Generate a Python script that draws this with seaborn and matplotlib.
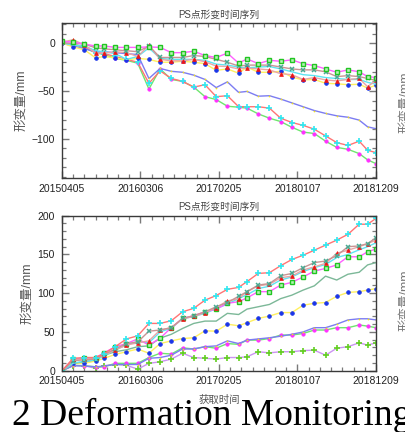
import matplotlib
matplotlib.use("Agg")
import matplotlib.pyplot as plt
from matplotlib.ticker import MultipleLocator, FixedLocator
import seaborn as sns

# acquisition day offsets from 2015-04-05
days = [0, 48, 96, 144, 180, 228, 276, 324, 372, 420, 468, 516, 564, 612, 660,
        708, 756, 792, 840, 888, 936, 984, 1032, 1080, 1128, 1176, 1224, 1272, 1308, 1344]
tick_days = [0, 336, 672, 1008, 1344]
tick_labels = ["20150405", "20160306", "20170205", "20180107", "20181209"]

# ---- top panel (subsidence) ----
top_green_mag = [0, -1, -5, -10, -12, -16, -18, -21, -48, -27, -38, -40, -46, -56, -59, -66, -67, -68,
                 -74, -78.5, -82, -88, -93, -94.5, -102.5, -109, -111, -115.5, -122, -126]
top_red_cyan = [0, -1, -4, -10, -11, -14, -17, -20, -42, -29, -37, -40, -46, -43.5, -56, -55, -66.5,
                -66.5, -66.5, -68, -78.5, -83, -86, -90, -97, -104, -107, -102.5, -112, -114.5]
top_blue_yel = [0, -3, -6, -9, -9, -10, -11, -12, -37, -26.5, -29.5, -30.5, -33.5, -38, -46.5, -40.5,
                -51.5, -50.5, -55.5, -55, -58.5, -62.5, -66.5, -70.5, -73.5, -76, -77.5, -80.5, -87.5, -89.5]
top_yel_blue = [0, -4, -7, -15.5, -14, -15.5, -17.5, -16, -17, -20, -20, -19, -20, -21.5, -28.5, -27,
                -31.5, -25, -30.5, -30.5, -29.5, -35.5, -38.5, -38, -42, -42.5, -43.5, -43, -47, -44]
top_red_tri = [1, 3.5, -2, -10.5, -10.5, -9, -10, -14, -2, -17, -18.5, -18.5, -17, -19.5, -24, -24.5,
               -27, -26, -27, -28, -32, -33, -38, -36, -38.5, -39.5, -38, -37, -45.5, -39]
top_cyan = [0, -2, -3, -8, -9, -11, -17, -14, -5, -16, -17, -17, -17, -18, -22, -23, -25, -26, -25,
            -24.5, -27, -30, -33, -34, -36, -37, -38, -38, -41, -43]
top_rosy_x = [0, 0, -1, -5, -6, -7, -8, -9, -3, -15, -15, -15, -13, -14, -17, -20, -24, -23, -23, -23,
              -25, -27, -28, -28, -30, -35, -34, -35, -37, -39]
top_mag_sq = [2, 1, -1, -3, -3, -4.5, -4.5, -4.5, -4, -4.5, -10, -10, -8.5, -13, -15, -10.5, -21, -16.5,
              -21.5, -18, -19, -17.5, -21.5, -23.5, -27, -30.5, -28, -30, -35, -36]

# ---- bottom panel (uplift) ----
bot_purple_plus = [0, 6.5, 6.5, 3, 6.5, 8, 7, 2, 9.5, 11.5, 15, 22.5, 17, 16, 15, 17, 17, 18, 24.5, 23,
                   24.5, 24.5, 26, 26.5, 20, 29, 31, 36, 33, 36]
bot_green_mag = [0, 7, 6.5, 5, 5, 9.5, 9.5, 9.5, 17, 22.5, 21.5, 29.5, 28, 31, 29, 35, 34, 39.5, 39.5,
                 41.5, 46, 46, 48, 52.5, 52.5, 55.5, 55.5, 59, 57.5, 55.5]
bot_blue_yel = [0, 6.5, 6, 5, 6, 8, 8, 8, 16, 17, 20, 28, 28, 31, 32, 38.5, 35, 39.5, 41, 42.5, 44.5,
                47, 50, 55.5, 55.5, 60, 65.5, 67, 67, 65.5]
bot_yel_blue = [0, 9.5, 9.5, 12.5, 16, 21, 24.5, 28, 22.5, 35, 38.5, 41.5, 42.5, 51.5, 51, 60, 58, 62,
                67.5, 70.5, 75, 75, 84.5, 87, 88, 96, 101, 102, 104, 106]
bot_seagreen = [0, 9.5, 11.5, 14, 20, 24.5, 27, 31, 32, 42, 47, 54.5, 61, 64, 64, 74, 72.5, 79.5, 82.5,
                85.5, 93, 97.5, 104, 109.5, 122, 117, 124.5, 127, 136.5, 139.5]
bot_cyan = [0, 10, 12, 14, 19, 27, 33, 38, 36, 50, 55, 67, 70, 74, 80, 86, 93, 98, 106, 109, 117, 121,
            128, 133, 137, 146, 150, 156, 160, 165]
bot_mag_sq = [0, 15, 16, 17, 23, 31, 35, 41, 33, 42, 55.5, 67.5, 71, 76, 79.5, 87, 89, 94, 102, 102,
              110.5, 114, 121, 128.5, 132, 136.5, 147, 147, 153.5, 157]
bot_red_tri = [0, 15, 15, 16, 20, 27, 33, 36, 38.5, 52.5, 55.5, 67, 70, 75, 81.5, 90, 93, 102, 109.5,
               111.5, 120, 122, 130, 134, 138.5, 151.5, 155.5, 160, 164, 168.5]
bot_rosy_x = [0, 13, 14, 15, 21, 28, 35, 37, 51, 52.5, 55.5, 67.5, 71, 76, 82.5, 88, 96, 102, 110.5,
              112.5, 122.5, 125.5, 133, 139.5, 141.5, 148.5, 160, 161, 164, 171.5]
bot_red_cyan = [0, 16, 17, 17, 22, 31, 41, 45, 61, 61, 64.5, 76, 80.5, 91, 97, 105, 107.5, 115, 125.5,
                126.5, 135.5, 143.5, 149, 155.5, 162, 168.5, 176, 189, 189, 196.5]

title_text = "PS点形变时间序列"
ylabel_text = "形变量/mm"
xlabel_text = "获取时间"
caption_text = "2 Deformation Monitoring"

sns.set_theme(style="ticks")
plt.rcParams["font.family"] = ["Liberation Sans", "Noto Sans CJK SC", "DejaVu Sans"]

# style: (line color, marker, marker face, marker edge, marker size, marker edge width)
styles = {
    "green_mag": ("#6ee66e", "o", "#ff30ff", "#ff30ff", 2.4, 0.6),
    "red_cyan": ("#ff7474", "+", "#30e8f0", "#30e8f0", 4, 1.2),
    "blue_yel": ("#7c7cf2", ".", "#f0e020", "#f0e020", 1.8, 0.3),
    "yel_blue": ("#fff060", "o", "#1a35e8", "#1a35e8", 2.6, 0.6),
    "red_tri": ("#eaa6a6", "^", "#ee1515", "#ee1515", 2.8, 0.5),
    "cyan": ("#5ee4f2", "", "none", "none", 0, 0),
    "rosy_x": ("#c99494", "x", "#48aa92", "#48aa92", 3.2, 1.1),
    "mag_sq": ("#ff60ff", "s", "#b4f2b4", "#22c522", 3.2, 1.0),
    "seagreen": ("#7cb898", "", "none", "none", 0, 0),
    "purple_plus": ("#cc94f2", "+", "#62d020", "#62d020", 4, 1.2),
}


def draw(ax, y, key):
    lc, mk, mfc, mec, ms, mew = styles[key]
    kw = dict(x=days, y=y, ax=ax, color=lc, linewidth=1.0, errorbar=None, sort=False)
    if mk:
        kw.update(marker=mk, markersize=ms, markerfacecolor=mfc, markeredgecolor=mec,
                  markeredgewidth=mew)
    sns.lineplot(**kw)


fig = plt.figure(figsize=(4.06, 4.32), dpi=100)
ax1 = fig.add_axes([62 / 406, 1 - 178 / 432, 314 / 406, 155 / 432])
ax2 = fig.add_axes([62 / 406, 1 - 370.7 / 432, 314 / 406, 155 / 432])

for key, y in [("green_mag", top_green_mag), ("red_cyan", top_red_cyan), ("blue_yel", top_blue_yel),
               ("yel_blue", top_yel_blue), ("cyan", top_cyan), ("red_tri", top_red_tri),
               ("rosy_x", top_rosy_x), ("mag_sq", top_mag_sq)]:
    draw(ax1, y, key)

for key, y in [("purple_plus", bot_purple_plus), ("green_mag", bot_green_mag),
               ("blue_yel", bot_blue_yel), ("yel_blue", bot_yel_blue), ("seagreen", bot_seagreen),
               ("cyan", bot_cyan), ("mag_sq", bot_mag_sq), ("red_tri", bot_red_tri),
               ("rosy_x", bot_rosy_x), ("red_cyan", bot_red_cyan)]:
    draw(ax2, y, key)

ax1.set_ylim(-141, 21)
ax2.set_ylim(0, 200)
ax1.yaxis.set_major_locator(FixedLocator([-100, -50, 0]))
ax2.yaxis.set_major_locator(MultipleLocator(50))

for ax in (ax1, ax2):
    ax.set_xlim(0, 1344)
    ax.set_xticks(tick_days)
    ax.set_xticklabels(tick_labels)
    ax.xaxis.set_minor_locator(MultipleLocator(48))
    ax.yaxis.set_minor_locator(MultipleLocator(10))
    ax.tick_params(which="both", direction="in", top=True, right=True, colors="#7a7a7a",
                   labelcolor="#222222", labelsize=7.5)
    ax.tick_params(which="major", length=5, width=1)
    ax.tick_params(which="minor", length=3, width=0.9)
    ax.tick_params(axis="x", pad=4)
    ax.tick_params(axis="y", pad=5)
    for s in ax.spines.values():
        s.set_color("#3a3a3a")
        s.set_linewidth(1.0)
    ax.set_xlabel("")
    ax.set_ylabel(ylabel_text, fontsize=9, color="#555555", labelpad=3)
    ax.set_title(title_text, fontsize=7, color="#444444", pad=4)

ax2.set_xlabel(xlabel_text, fontsize=7.5, color="#555555", labelpad=6)

# cut-off labels of the neighbouring panels at the right edge
fig.text(405 / 406, 1 - 102 / 432, ylabel_text, rotation=90, ha="center", va="center",
         fontsize=9, color="#777777")
fig.text(405 / 406, 1 - 300 / 432, ylabel_text, rotation=90, ha="center", va="center",
         fontsize=9, color="#777777")

fig.text(12 / 406, 1 - 425 / 432, caption_text, ha="left", va="baseline", fontsize=27,
         family=["Liberation Serif"], color="black")

fig.savefig("out.png", dpi=100)
